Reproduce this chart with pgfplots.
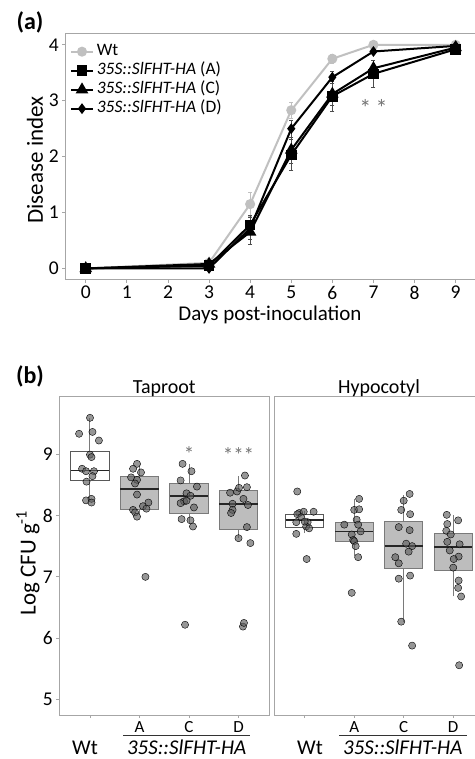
\documentclass[border=0pt]{standalone}
\usepackage{fontspec}
\setmainfont{Carlito}
\usepackage{pgfplots}
\pgfplotsset{compat=1.18}

\definecolor{axgray}{HTML}{A6A6A6}
\definecolor{wtgray}{HTML}{C0C0C0}
\definecolor{boxfill}{HTML}{BDBDBD}
\definecolor{boxline}{HTML}{7A7A7A}
\definecolor{ptcol}{HTML}{5E5E5E}

\pgfplotsset{
  mybase/.style={
    scale only axis,
    axis line style={axgray, line width=1pt},
    tick style={axgray, line width=0.8pt},
    tick align=outside,
    major tick length=3pt,
    tick pos=left,
    /pgf/number format/assume math mode=true,
    ticklabel style={font=\fontsize{19.5}{19.5}\selectfont, text=black},
    clip=false,
  },
  pts/.style={only marks, mark=*, mark size=3.6pt, mark options={draw=none, fill=ptcol, fill opacity=0.65}},
  whisk/.style={boxline, line width=1pt},
  wbox/.style={draw=black!65, fill=white, line width=1pt},
  gbox/.style={draw=boxline, fill=boxfill, line width=1pt},
  med/.style={black!85, line width=1.7pt},
}

\pgfplotstableread{
x y e
0 0 0
3 0.10 0.03
4 1.15 0.21
5 2.83 0.15
6 3.75 0.08
7 4.00 0.01
9 4.00 0.01
}\wt
\pgfplotstableread{
x y e
0 0 0
3 0.05 0.03
4 0.78 0.17
5 2.03 0.28
6 3.08 0.26
7 3.48 0.24
9 3.92 0.03
}\lineA
\pgfplotstableread{
x y e
0 0 0
3 0.08 0.03
4 0.65 0.21
5 2.12 0.23
6 3.12 0.20
7 3.58 0.15
9 3.95 0.03
}\lineC
\pgfplotstableread{
x y e
0 0 0
3 0.00 0.02
4 0.72 0.20
5 2.50 0.15
6 3.42 0.11
7 3.88 0.03
9 3.98 0.02
}\lineD

\pgfplotstableread{
x y
1.00 9.59
0.78 9.33
1.05 9.36
1.18 9.22
1.00 8.99
1.03 8.95
0.84 8.76
0.92 8.72
1.08 8.72
1.05 8.64
0.93 8.55
0.92 8.245
1.03 8.27
1.03 8.21
1.95 8.84
1.87 8.76
2.03 8.70
1.83 8.62
1.95 8.58
1.91 8.52
1.95 8.34
2.18 8.21
2.07 8.15
2.14 8.11
1.87 8.09
1.91 8.05
1.95 7.98
2.12 7.00
2.87 8.84
3.05 8.72
2.83 8.57
3.16 8.47
2.95 8.36
3.03 8.32
2.90 8.23
2.83 8.20
2.95 8.24
3.10 8.13
2.85 7.94
3.03 7.92
3.08 7.82
2.92 6.22
4.13 8.65
3.83 8.37
3.97 8.39
4.01 8.45
4.17 8.46
4.10 8.27
3.88 8.19
4.19 8.17
3.88 8.09
3.85 8.04
4.17 7.81
4.00 7.63
4.24 7.55
4.09 6.19
4.11 6.25
}\taproot

\pgfplotstableread{
x y
0.85 8.39
0.89 8.04
0.98 8.06
0.85 8.02
1.18 8.06
0.93 7.97
0.83 7.89
1.06 7.89
1.03 7.82
1.09 7.79
0.83 7.70
1.04 7.29
1.00 7.90
2.10 8.27
2.00 8.09
2.10 8.10
1.80 7.85
2.05 7.93
2.08 7.85
2.13 7.74
1.95 7.69
1.98 7.60
2.00 7.58
2.03 7.50
2.08 7.32
1.95 6.74
3.12 8.35
3.00 8.24
2.95 8.09
3.13 8.02
2.90 7.81
3.12 7.76
3.05 7.54
3.17 7.50
3.10 7.41
2.83 7.32
2.90 7.22
2.90 6.97
3.13 7.02
2.95 6.27
3.17 5.88
3.87 8.01
4.10 7.92
3.88 7.86
3.86 7.75
3.95 7.69
3.88 7.57
4.13 7.53
3.93 7.43
4.11 7.33
4.01 7.29
4.00 7.15
4.11 6.94
4.10 6.82
4.16 6.68
4.12 5.56
}\hypocotyl

\begin{document}
\begin{tikzpicture}
\useasboundingbox (0,0) rectangle (474pt,-759pt);

% ---------------- panel (a)
\begin{axis}[mybase,
  at={(65.2pt,-279.6pt)}, anchor=south west,
  width=411pt, height=246pt,
  xmin=-0.5, xmax=9.5, ymin=-0.2, ymax=4.2,
  xtick={0,...,9}, ytick={0,...,4},
  legend style={at={(rel axis cs:0.0117,0.966)}, anchor=north west, draw=none, fill=none,
    font=\fontsize{17.5}{17.5}\selectfont, inner sep=0pt, row sep=0pt,
    nodes={inner sep=0pt, text height=13pt, text depth=6pt},
    /tikz/every odd column/.append style={column sep=3pt}},
  legend cell align=left,
  legend image code/.code={\draw[mark repeat=2, mark phase=2] plot coordinates {(0pt,0pt) (10.8pt,0pt) (21.6pt,0pt)};},
  error bars/y dir=both, error bars/y explicit,
]
\addplot[wtgray, line width=2pt, mark=*, mark size=4pt, mark options={solid, fill=wtgray, draw=wtgray},
  error bars/.cd, error bar style={wtgray, line width=0.7pt}, error mark options={rotate=90, mark size=2pt, wtgray}]
  table[x=x, y=y, y error=e] {\wt};
\addlegendentry{Wt}
\addplot[black, line width=2pt, mark=square*, mark size=4.3pt, mark options={solid, fill=black},
  error bars/.cd, error bar style={black!70, line width=0.7pt}, error mark options={rotate=90, mark size=2pt, black!70}]
  table[x=x, y=y, y error=e] {\lineA};
\addlegendentry{\textit{35S::SlFHT-HA} (A)}
\addplot[black, line width=2pt, mark=triangle*, mark size=5.3pt, mark options={solid, fill=black},
  error bars/.cd, error bar style={black!70, line width=0.7pt}, error mark options={rotate=90, mark size=2pt, black!70}]
  table[x=x, y=y, y error=e] {\lineC};
\addlegendentry{\textit{35S::SlFHT-HA} (C)}
\addplot[black, line width=2pt, mark=diamond*, mark size=3.8pt, mark options={solid, fill=black},
  error bars/.cd, error bar style={black!70, line width=0.7pt}, error mark options={rotate=90, mark size=2pt, black!70}]
  table[x=x, y=y, y error=e] {\lineD};
\addlegendentry{\textit{35S::SlFHT-HA} (D)}
\node[text=black!55, font=\fontsize{24}{24}\selectfont, anchor=base, inner sep=0pt] at (axis cs:6.8,2.72) {*};
\node[text=black!55, font=\fontsize{24}{24}\selectfont, anchor=base, inner sep=0pt] at (axis cs:7.2,2.72) {*};
\end{axis}

% ---------------- panel (b) Taproot
\begin{axis}[mybase,
  at={(59.3pt,-715pt)}, anchor=south west,
  width=209.9pt, height=318.7pt,
  xmin=0.38, xmax=4.62, ymin=4.75, ymax=9.94,
  xtick={1,2,3,4}, xticklabels={,A,C,D},
  ytick={5,6,7,8,9},
  xticklabel style={font=\fontsize{17}{17}\selectfont},
]
% Wt
\addplot[whisk] coordinates {(1,8.245) (1,8.565)};
\addplot[whisk] coordinates {(1,9.04) (1,9.59)};
\addplot[wbox] coordinates {(0.615,8.565) (1.385,8.565) (1.385,9.04) (0.615,9.04)} -- cycle;
\addplot[med] coordinates {(0.615,8.73) (1.385,8.73)};
% A
\addplot[whisk] coordinates {(2,8.00) (2,8.10)};
\addplot[whisk] coordinates {(2,8.635) (2,8.82)};
\addplot[gbox] coordinates {(1.615,8.10) (2.385,8.10) (2.385,8.635) (1.615,8.635)} -- cycle;
\addplot[med] coordinates {(1.615,8.43) (2.385,8.43)};
% C
\addplot[whisk] coordinates {(3,7.88) (3,8.03)};
\addplot[whisk] coordinates {(3,8.52) (3,8.84)};
\addplot[gbox] coordinates {(2.615,8.03) (3.385,8.03) (3.385,8.52) (2.615,8.52)} -- cycle;
\addplot[med] coordinates {(2.615,8.32) (3.385,8.32)};
% D
\addplot[whisk] coordinates {(4,7.63) (4,7.77)};
\addplot[whisk] coordinates {(4,8.40) (4,8.65)};
\addplot[gbox] coordinates {(3.615,7.77) (4.385,7.77) (4.385,8.40) (3.615,8.40)} -- cycle;
\addplot[med] coordinates {(3.615,8.19) (4.385,8.19)};
\addplot[pts] table[x=x, y=y] {\taproot};
\node[text=black!55, font=\fontsize{21}{21}\selectfont, anchor=base, inner sep=0pt] at (axis cs:3,8.875) {*};
\node[text=black!55, font=\fontsize{21}{21}\selectfont, anchor=base, inner sep=0pt] at (axis cs:4,8.86) {***};
\end{axis}

% ---------------- panel (b) Hypocotyl
\begin{axis}[mybase,
  at={(274pt,-715pt)}, anchor=south west,
  width=209.9pt, height=318.7pt,
  xmin=0.38, xmax=4.62, ymin=4.75, ymax=9.94,
  xtick={1,2,3,4}, xticklabels={,A,C,D},
  ytick=\empty,
  xticklabel style={font=\fontsize{17}{17}\selectfont},
]
% Wt
\addplot[whisk] coordinates {(1,7.71) (1,7.81)};
\addplot[whisk] coordinates {(1,8.02) (1,8.08)};
\addplot[wbox] coordinates {(0.615,7.81) (1.385,7.81) (1.385,8.02) (0.615,8.02)} -- cycle;
\addplot[med] coordinates {(0.615,7.92) (1.385,7.92)};
% A
\addplot[whisk] coordinates {(2,7.34) (2,7.58)};
\addplot[whisk] coordinates {(2,7.89) (2,8.27)};
\addplot[gbox] coordinates {(1.615,7.58) (2.385,7.58) (2.385,7.89) (1.615,7.89)} -- cycle;
\addplot[med] coordinates {(1.615,7.74) (2.385,7.74)};
% C
\addplot[whisk] coordinates {(3,6.27) (3,7.13)};
\addplot[whisk] coordinates {(3,7.90) (3,8.34)};
\addplot[gbox] coordinates {(2.615,7.13) (3.385,7.13) (3.385,7.90) (2.615,7.90)} -- cycle;
\addplot[med] coordinates {(2.615,7.50) (3.385,7.50)};
% D
\addplot[whisk] coordinates {(4,6.68) (4,7.10)};
\addplot[whisk] coordinates {(4,7.71) (4,8.01)};
\addplot[gbox] coordinates {(3.615,7.10) (4.385,7.10) (4.385,7.71) (3.615,7.71)} -- cycle;
\addplot[med] coordinates {(3.615,7.49) (4.385,7.49)};
\addplot[pts] table[x=x, y=y] {\hypocotyl};
\end{axis}

% ---------------- text
\node[font=\bfseries\fontsize{24}{24}\selectfont] at (30pt,-22pt) {(a)};
\node[rotate=90, font=\fontsize{23}{23}\selectfont] at (35pt,-160pt) {Disease index};
\node[anchor=base, inner sep=0pt, font=\fontsize{21}{21}\selectfont] at (270pt,-320.7pt) {Days post-inoculation};
\node[font=\bfseries\fontsize{24}{24}\selectfont] at (30pt,-376.5pt) {(b)};
\node[anchor=base, inner sep=0pt, font=\fontsize{20}{20}\selectfont] at (164.3pt,-393.5pt) {Taproot};
\node[anchor=base, inner sep=0pt, font=\fontsize{20}{20}\selectfont] at (379pt,-393.5pt) {Hypocotyl};
\node[rotate=90, font=\fontsize{23}{23}\selectfont] at (28pt,-563pt) {Log CFU g\textsuperscript{-1}};
\node[anchor=base, inner sep=0pt, font=\fontsize{21}{21}\selectfont] at (85pt,-754.5pt) {Wt};
\node[anchor=base, inner sep=0pt, font=\fontsize{21}{21}\selectfont] at (186.7pt,-754.5pt) {\itshape 35S::SlFHT-HA};
\draw[line width=1pt, black!80] (123pt,-735.7pt) -- (250pt,-735.7pt);
\node[anchor=base, inner sep=0pt, font=\fontsize{21}{21}\selectfont] at (310pt,-754.5pt) {Wt};
\node[anchor=base, inner sep=0pt, font=\fontsize{21}{21}\selectfont] at (402.8pt,-754.5pt) {\itshape 35S::SlFHT-HA};
\draw[line width=1pt, black!80] (339.3pt,-735.7pt) -- (466.7pt,-735.7pt);
\end{tikzpicture}
\end{document}
